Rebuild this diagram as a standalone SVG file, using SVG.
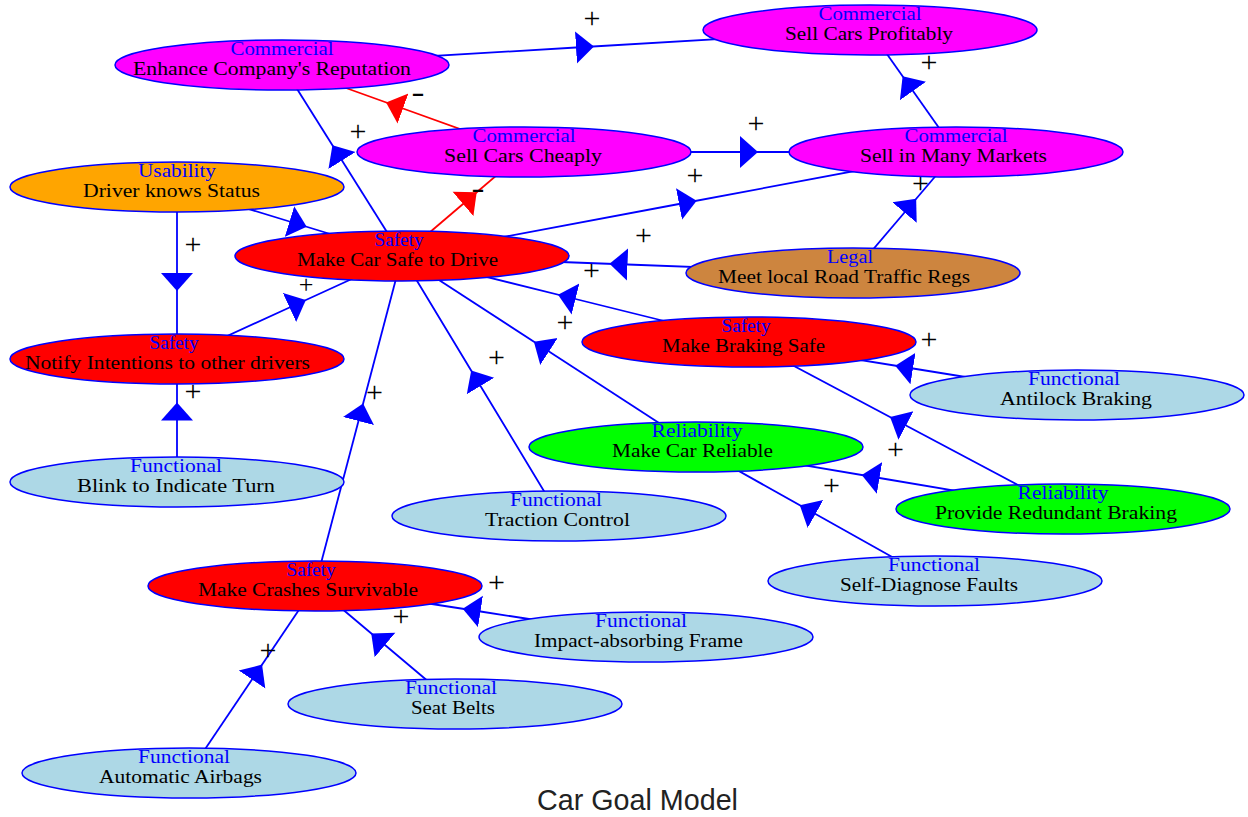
<svg xmlns="http://www.w3.org/2000/svg" width="1248" height="817" viewBox="0 0 1248 817">
<style>
.e{stroke:#0000ff;stroke-width:1.8;fill:none;marker-mid:url(#ab)}
.r{stroke:#ff0000;stroke-width:1.8;fill:none;marker-mid:url(#ar)}
ellipse{stroke:#0000ff;stroke-width:1.5}
.com{fill:#ff00ff}.use{fill:#ffa500}.saf{fill:#ff0000}.leg{fill:#cd853f}.fun{fill:#add8e6}.rel{fill:#00ff00}
.c{font-family:"Liberation Serif",serif;font-size:18px;fill:#0000ff;text-anchor:middle}
.n{font-family:"Liberation Serif",serif;font-size:18px;fill:#000000;text-anchor:middle}
.l{font-family:"Liberation Serif",serif;font-size:30px;fill:#000000;text-anchor:middle}
.t{font-family:"Liberation Sans",sans-serif;font-size:29px;fill:#222222;text-anchor:middle}
</style>
<defs>
<marker id="ab" markerWidth="20" markerHeight="34" viewBox="0 -17 20 34" refX="0" refY="0" orient="auto" markerUnits="userSpaceOnUse"><path d="M0,-16 L18,0 L0,16 Z" fill="#0000ff"/></marker>
<marker id="ar" markerWidth="20" markerHeight="34" viewBox="0 -17 20 34" refX="0" refY="0" orient="auto" markerUnits="userSpaceOnUse"><path d="M0,-16 L18,0 L0,16 Z" fill="#ff0000"/></marker>
</defs>
<rect width="1248" height="817" fill="#ffffff"/>
<g id="connectors">
<path class="e" d="M282,65 L576,47.5 L870,30"/>
<path class="e" d="M956,152 L913,91 L870,30"/>
<path class="e" d="M524,152 L740,152 L956,152"/>
<path class="r" d="M524,152 L403,108.5 L282,65"/>
<path class="e" d="M402,256 L342,160.5 L282,65"/>
<path class="e" d="M177,187 L289.5,221.5 L402,256"/>
<path class="e" d="M177,187 L177,273 L177,359"/>
<path class="e" d="M177,359 L289.5,307.5 L402,256"/>
<path class="e" d="M177,482 L177,420.5 L177,359"/>
<path class="r" d="M402,256 L463,204 L524,152"/>
<path class="e" d="M402,256 L679,204 L956,152"/>
<path class="e" d="M853,273 L904.5,212.5 L956,152"/>
<path class="e" d="M853,273 L627.5,264.5 L402,256"/>
<path class="e" d="M749,342 L575.5,299 L402,256"/>
<path class="e" d="M696,447 L549,351.5 L402,256"/>
<path class="e" d="M559,516 L480.5,386 L402,256"/>
<path class="e" d="M315,586 L358.5,421 L402,256"/>
<path class="e" d="M1077,395 L913,368.5 L749,342"/>
<path class="e" d="M1063,509 L906,425.5 L749,342"/>
<path class="e" d="M1063,509 L879.5,478 L696,447"/>
<path class="e" d="M935,581 L815.5,514 L696,447"/>
<path class="e" d="M646,637 L480.5,611.5 L315,586"/>
<path class="e" d="M455,704 L385,645 L315,586"/>
<path class="e" d="M189,773 L252,679.5 L315,586"/>
<g id="edge-labels">
<text class="l" x="592" y="28">+</text>
<text class="l" x="929" y="72">+</text>
<text class="l" x="756" y="133">+</text>
<text class="l" x="418" y="102" textLength="13" lengthAdjust="spacingAndGlyphs">-</text>
<text class="l" x="358" y="141">+</text>
<text class="l" x="193" y="254">+</text>
<text class="l" x="306" y="293" style="font-size:26px">+</text>
<text class="l" x="193" y="401">+</text>
<text class="l" x="478" y="198" textLength="13" lengthAdjust="spacingAndGlyphs">-</text>
<text class="l" x="695" y="185">+</text>
<text class="l" x="920.5" y="193">+</text>
<text class="l" x="643.5" y="245">+</text>
<text class="l" x="591.5" y="280">+</text>
<text class="l" x="565" y="332">+</text>
<text class="l" x="496.5" y="367">+</text>
<text class="l" x="374.5" y="402">+</text>
<text class="l" x="929" y="349">+</text>
<text class="l" x="895.5" y="459">+</text>
<text class="l" x="831.5" y="495">+</text>
<text class="l" x="496.5" y="592">+</text>
<text class="l" x="401" y="626">+</text>
<text class="l" x="268" y="660">+</text>
</g>
</g>
<g id="n1"><ellipse class="com" cx="282" cy="65" rx="167" ry="25"/><text class="c" x="282" y="54.5" textLength="103" lengthAdjust="spacingAndGlyphs">Commercial</text><text class="n" x="272" y="75" textLength="278" lengthAdjust="spacingAndGlyphs">Enhance Company's Reputation</text></g>
<g id="n2"><ellipse class="com" cx="870" cy="30" rx="167" ry="25"/><text class="c" x="870" y="19.5" textLength="103" lengthAdjust="spacingAndGlyphs">Commercial</text><text class="n" x="869" y="40" textLength="168" lengthAdjust="spacingAndGlyphs">Sell Cars Profitably</text></g>
<g id="n3"><ellipse class="com" cx="524" cy="152" rx="167" ry="25"/><text class="c" x="524" y="141.5" textLength="103" lengthAdjust="spacingAndGlyphs">Commercial</text><text class="n" x="523" y="162" textLength="158" lengthAdjust="spacingAndGlyphs">Sell Cars Cheaply</text></g>
<g id="n4"><ellipse class="com" cx="956" cy="152" rx="167" ry="25"/><text class="c" x="956" y="141.5" textLength="103" lengthAdjust="spacingAndGlyphs">Commercial</text><text class="n" x="953.5" y="162" textLength="187" lengthAdjust="spacingAndGlyphs">Sell in Many Markets</text></g>
<g id="n5"><ellipse class="use" cx="177" cy="187" rx="167" ry="25"/><text class="c" x="177" y="176.5" textLength="78" lengthAdjust="spacingAndGlyphs">Usability</text><text class="n" x="171.5" y="197" textLength="177" lengthAdjust="spacingAndGlyphs">Driver knows Status</text></g>
<g id="n6"><ellipse class="saf" cx="402" cy="256" rx="167" ry="25"/><text class="c" x="399" y="245.5" textLength="49" lengthAdjust="spacingAndGlyphs">Safety</text><text class="n" x="397.5" y="266" textLength="201" lengthAdjust="spacingAndGlyphs">Make Car Safe to Drive</text></g>
<g id="n7"><ellipse class="leg" cx="853" cy="273" rx="167" ry="25"/><text class="c" x="850" y="262.5" textLength="46" lengthAdjust="spacingAndGlyphs">Legal</text><text class="n" x="844" y="283" textLength="252" lengthAdjust="spacingAndGlyphs">Meet local Road Traffic Regs</text></g>
<g id="n8"><ellipse class="saf" cx="749" cy="342" rx="167" ry="25"/><text class="c" x="746" y="331.5" textLength="49" lengthAdjust="spacingAndGlyphs">Safety</text><text class="n" x="743.5" y="352" textLength="163" lengthAdjust="spacingAndGlyphs">Make Braking Safe</text></g>
<g id="n9"><ellipse class="saf" cx="177" cy="359" rx="167" ry="25"/><text class="c" x="174" y="348.5" textLength="49" lengthAdjust="spacingAndGlyphs">Safety</text><text class="n" x="167.5" y="369" textLength="285" lengthAdjust="spacingAndGlyphs">Notify Intentions to other drivers</text></g>
<g id="n10"><ellipse class="fun" cx="1077" cy="395" rx="167" ry="25"/><text class="c" x="1074" y="384.5" textLength="92" lengthAdjust="spacingAndGlyphs">Functional</text><text class="n" x="1076" y="405" textLength="152" lengthAdjust="spacingAndGlyphs">Antilock Braking</text></g>
<g id="n11"><ellipse class="rel" cx="696" cy="447" rx="167" ry="25"/><text class="c" x="697" y="436.5" textLength="91" lengthAdjust="spacingAndGlyphs">Reliability</text><text class="n" x="692.5" y="457" textLength="161" lengthAdjust="spacingAndGlyphs">Make Car Reliable</text></g>
<g id="n12"><ellipse class="fun" cx="177" cy="482" rx="167" ry="25"/><text class="c" x="176" y="471.5" textLength="92" lengthAdjust="spacingAndGlyphs">Functional</text><text class="n" x="176" y="492" textLength="198" lengthAdjust="spacingAndGlyphs">Blink to Indicate Turn</text></g>
<g id="n13"><ellipse class="fun" cx="559" cy="516" rx="167" ry="25"/><text class="c" x="556" y="505.5" textLength="92" lengthAdjust="spacingAndGlyphs">Functional</text><text class="n" x="557.5" y="526" textLength="145" lengthAdjust="spacingAndGlyphs">Traction Control</text></g>
<g id="n14"><ellipse class="rel" cx="1063" cy="509" rx="167" ry="25"/><text class="c" x="1063" y="498.5" textLength="91" lengthAdjust="spacingAndGlyphs">Reliability</text><text class="n" x="1056" y="519" textLength="242" lengthAdjust="spacingAndGlyphs">Provide Redundant Braking</text></g>
<g id="n15"><ellipse class="saf" cx="315" cy="586" rx="167" ry="25"/><text class="c" x="311" y="575.5" textLength="49" lengthAdjust="spacingAndGlyphs">Safety</text><text class="n" x="308" y="596" textLength="220" lengthAdjust="spacingAndGlyphs">Make Crashes Survivable</text></g>
<g id="n16"><ellipse class="fun" cx="935" cy="581" rx="167" ry="25"/><text class="c" x="934" y="570.5" textLength="92" lengthAdjust="spacingAndGlyphs">Functional</text><text class="n" x="929" y="591" textLength="178" lengthAdjust="spacingAndGlyphs">Self-Diagnose Faults</text></g>
<g id="n17"><ellipse class="fun" cx="646" cy="637" rx="167" ry="25"/><text class="c" x="641" y="626.5" textLength="92" lengthAdjust="spacingAndGlyphs">Functional</text><text class="n" x="638.5" y="647" textLength="209" lengthAdjust="spacingAndGlyphs">Impact-absorbing Frame</text></g>
<g id="n18"><ellipse class="fun" cx="455" cy="704" rx="167" ry="25"/><text class="c" x="451" y="693.5" textLength="92" lengthAdjust="spacingAndGlyphs">Functional</text><text class="n" x="453" y="714" textLength="84" lengthAdjust="spacingAndGlyphs">Seat Belts</text></g>
<g id="n19"><ellipse class="fun" cx="189" cy="773" rx="167" ry="25"/><text class="c" x="184" y="762.5" textLength="92" lengthAdjust="spacingAndGlyphs">Functional</text><text class="n" x="180.5" y="783" textLength="163" lengthAdjust="spacingAndGlyphs">Automatic Airbags</text></g>
<text id="title" class="t" x="637.5" y="810" textLength="201" lengthAdjust="spacingAndGlyphs">Car Goal Model</text>
</svg>
